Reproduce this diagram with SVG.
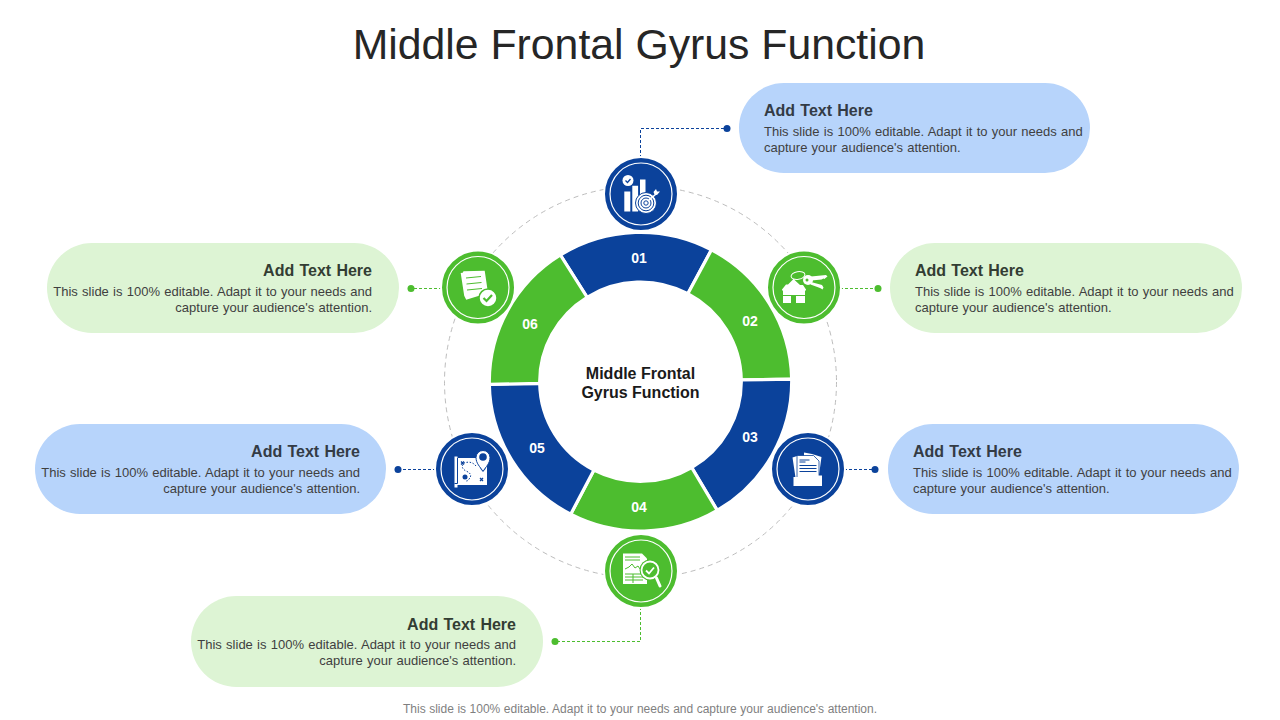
<svg xmlns="http://www.w3.org/2000/svg" width="1280" height="720" viewBox="0 0 1280 720">
<style>
text{font-family:"Liberation Sans",Arial,sans-serif}
.title{font-size:42.75px;fill:#262626;text-anchor:middle}
.foot{font-size:12px;fill:#7f7f7f;text-anchor:middle;word-spacing:.2px}
.h{font-size:16px;font-weight:bold;fill:#333b45;word-spacing:.8px}
.hg{fill:#333d33}
.b{font-size:13px;fill:#3f3f3f;word-spacing:.65px}
.e{text-anchor:end}
.num{font-size:14px;font-weight:bold;fill:#fff;text-anchor:middle}
.ctr{font-size:16px;font-weight:bold;fill:#1a1a1a;text-anchor:middle}
.pb{fill:#b7d4fb}.pg{fill:#ddf4d4}
.fb{fill:#0b429b}.fg{fill:#4dbd2f}
.disc{stroke:#fff;stroke-width:2}
.ring{fill:none;stroke:#fff;stroke-width:1.2}
.w{fill:#fff}
.lb{stroke:#0b429b}.lg{stroke:#4dbd2f}
.ib{fill:none;stroke:#0b429b;stroke-width:1}
.ig{fill:none;stroke:#4dbd2f;stroke-width:1}
.iw{fill:none;stroke:#fff;stroke-width:1}
.con{fill:none;stroke-width:1;stroke-dasharray:3 2}
.seg{stroke:#fff;stroke-width:3.2}
</style>
<text class="title" x="639" y="59">Middle Frontal Gyrus Function</text>
<circle cx="640.5" cy="382" r="196" fill="none" stroke="#bdbdbd" stroke-width="1" stroke-dasharray="5 4"/>
<g id="connectors">
<g class="lb"><path class="con" d="M640.5,158V128.500H727"/><circle cx="727" cy="128.500" r="3.500" class="fb" stroke="none"/></g>
<g class="lg"><path class="con" d="M840,288.500H878"/><circle cx="878" cy="288.500" r="3.500" class="fg" stroke="none"/></g>
<g class="lb"><path class="con" d="M844,469.500H875"/><circle cx="875" cy="469.500" r="3.500" class="fb" stroke="none"/></g>
<g class="lg"><path class="con" d="M640.500,607V641.500H555"/><circle cx="555" cy="641.500" r="3.500" class="fg" stroke="none"/></g>
<g class="lb"><path class="con" d="M436,469.500H398"/><circle cx="398" cy="469.500" r="3.500" class="fb" stroke="none"/></g>
<g class="lg"><path class="con" d="M442,288.500H411"/><circle cx="411" cy="288.500" r="3.500" class="fg" stroke="none"/></g>
</g>
<g id="ring" transform="translate(640.5,381.7) scale(1.006,.994)">
<path class="fb seg" d="M-79.65,-127.46A150.3,150.3 0 0 1 70.56,-132.71L47.04,-88.47A100.2,100.2 0 0 0 -53.1,-84.97Z"/>
<path class="fg seg" d="M70.56,-132.71A150.3,150.3 0 0 1 150.28,-2.62L100.18,-1.75A100.2,100.2 0 0 0 47.04,-88.47Z"/>
<path class="fb seg" d="M150.28,-2.62A150.3,150.3 0 0 1 76.28,129.5L50.85,86.33A100.2,100.2 0 0 0 100.18,-1.75Z"/>
<path class="fg seg" d="M76.28,129.5A150.3,150.3 0 0 1 -69.4,133.32L-46.26,88.88A100.2,100.2 0 0 0 50.85,86.33Z"/>
<path class="fb seg" d="M-69.4,133.32A150.3,150.3 0 0 1 -150.28,2.62L-100.18,1.75A100.2,100.2 0 0 0 -46.26,88.88Z"/>
<path class="fg seg" d="M-150.28,2.62A150.3,150.3 0 0 1 -79.65,-127.46L-53.1,-84.97A100.2,100.2 0 0 0 -100.18,1.75Z"/>
</g>
<text class="num" x="639" y="263">01</text>
<text class="num" x="750" y="326">02</text>
<text class="num" x="750" y="442">03</text>
<text class="num" x="639" y="512">04</text>
<text class="num" x="537" y="453">05</text>
<text class="num" x="530" y="329">06</text>
<text class="ctr" x="640.5" y="379">Middle Frontal</text>
<text class="ctr" x="640.5" y="398">Gyrus Function</text>

<g id="node-1">
<rect class="pb" x="739" y="83" width="351" height="90" rx="45"/>
<text class="h" x="764" y="116">Add Text Here</text>
<text class="b" x="764" y="136">This slide is 100% editable. Adapt it to your needs and</text>
<text class="b" x="764" y="152">capture your audience's attention.</text>
<circle class="fb disc" cx="641" cy="194" r="37"/><circle class="ring" cx="641" cy="194" r="31"/>
<path class="w" d="M624.3,191.500h6v20h-6zM632.300,185.700h5.800v25.800h-5.800zM640,179.500h5.500v19h-5.500z"/>
<circle class="w" cx="628" cy="180.500" r="5.500"/><path class="ib" style="stroke-width:1.300" d="M625.500,180.500l2,2 3,-3.500"/>
<circle class="w" stroke="#0b429b" stroke-width="1" cx="646" cy="203" r="10.500"/><circle class="ib" cx="646" cy="203" r="7.800"/><circle class="ib" cx="646" cy="203" r="5"/><circle class="ib" cx="646" cy="203" r="2.200"/>
<path class="iw" style="stroke-width:1.500" d="M648,201L656,194"/><path class="w" d="M653.500,192l2.500,-3 1,2.500 3,0 -3,3.500 -2.500,-.5z"/>
</g>

<g id="node-2">
<rect class="pg" x="890" y="243" width="352" height="90" rx="45"/>
<text class="h hg" x="915" y="276">Add Text Here</text>
<text class="b" x="915" y="296">This slide is 100% editable. Adapt it to your needs and</text>
<text class="b" x="915" y="312">capture your audience's attention.</text>
<circle class="fg disc" cx="804" cy="287.500" r="37"/><circle class="ring" cx="804" cy="287.500" r="31"/>
<path class="w" d="M793.500,279l6.500,6 3,0 3,4.500v1h-1v12.500h-9v-7h-5v7h-8v-12.500h-1v-1l4,-5h2z"/>
<path class="ig" d="M783,295.500h22M794,295.500v8"/>
<ellipse class="iw" cx="798" cy="275.500" rx="7" ry="3.800" transform="rotate(-10 798 275.500)"/><path class="iw" d="M794,279l-.5,2"/>
<circle class="w" cx="808" cy="280" r="5"/><circle class="fg" cx="807" cy="280" r="1.500"/>
<path class="w" d="M811,276.500l15,-1.500 1.500,1.500 -2,1.500 -1,1 -1,-.5 -2,1 -10,1z"/>
<path class="w" d="M811,282l11,3 1.500,2.500 -1,2 -1.500,-1 -1,-.5 -9.500,-3.500z"/>
</g>

<g id="node-3">
<rect class="pb" x="888" y="424" width="351" height="90" rx="45"/>
<text class="h" x="913" y="457">Add Text Here</text>
<text class="b" x="913" y="477">This slide is 100% editable. Adapt it to your needs and</text>
<text class="b" x="913" y="493">capture your audience's attention.</text>
<circle class="fb disc" cx="808" cy="469" r="37"/><circle class="ring" cx="808" cy="469" r="31"/>
<path class="w" d="M792.500,457.500l6,-2v22h-3zM804,452.500l8,1.500 9.500,3 -2.500,18h-15z"/>
<path class="w" stroke="#0b429b" stroke-width=".8" d="M797,455.500h16.500l5.500,5.500v17h-22z"/>
<path class="ib" d="M799.500,460h10M799.500,462h6M799.500,465.500h17M799.500,468.500h17M799.500,471.500h17"/>
<path class="w" d="M793.500,477h6l1.500,-1.500h21v10.500h-28.500z"/>
</g>

<g id="node-4">
<rect class="pg" x="191" y="596" width="352" height="91" rx="45.500"/>
<text class="h hg e" x="516" y="630">Add Text Here</text>
<text class="b e" x="516" y="649">This slide is 100% editable. Adapt it to your needs and</text>
<text class="b e" x="516" y="665">capture your audience's attention.</text>
<circle class="fg disc" cx="641" cy="571" r="37"/><circle class="ring" cx="641" cy="571" r="31"/>
<path class="w" d="M623,553.500h19l5,5v25.500h-24z"/>
<path class="ig" d="M625,557h15M625,560h15M625,569l4,-2 3,-3 3,4 3,-2 2,3M625,574h18M625,577h18M625,580h18M633,574v9"/>
<circle class="fg" cx="650" cy="570" r="10.500"/>
<circle class="iw" style="stroke-width:1.800" cx="650" cy="570" r="8.500"/>
<path class="iw" style="stroke-width:1.800" d="M646,570.500l3,3 5,-6"/>
<path class="iw" style="stroke-width:3;stroke-linecap:round" d="M656.500,578L660,586"/>
</g>

<g id="node-5">
<rect class="pb" x="35" y="424" width="351" height="90" rx="45"/>
<text class="h e" x="360" y="457">Add Text Here</text>
<text class="b e" x="360" y="477">This slide is 100% editable. Adapt it to your needs and</text>
<text class="b e" x="360" y="493">capture your audience's attention.</text>
<circle class="fb disc" cx="472" cy="469" r="37"/><circle class="ring" cx="472" cy="469" r="31"/>
<path class="w" d="M454.500,456.500h3v1.500h29.500v27h-29.500v2.500h-3z"/>
<path class="ib" d="M457.500,458v25.500h-3"/>
<path class="ib" style="stroke-dasharray:1.500 1.500" d="M476,466c-4,-5 -9,-4 -12,-3 -3,3 -2,6 2,8 5,2 6,5 3,8 -1,2 -2,2 -3,2"/>
<path class="ib" style="stroke-width:1.300" d="M461,461.500l3,3m0,-3l-3,3M480,478l3,3m0,-3l-3,3"/>
<circle cx="465" cy="477" r="2.500" class="fb"/><circle cx="483" cy="468" r="2.500" class="fb"/>
<path class="w" stroke="#0b429b" stroke-width="1" d="M483,471.500c-3,-5 -7,-8 -7,-14a7,7 0 0 1 14,0c0,6 -4,9 -7,14z"/>
<circle cx="483" cy="457" r="3.800" class="fb"/>
</g>

<g id="node-6">
<rect class="pg" x="47" y="243" width="352" height="90" rx="45"/>
<text class="h hg e" x="372" y="276">Add Text Here</text>
<text class="b e" x="372" y="296">This slide is 100% editable. Adapt it to your needs and</text>
<text class="b e" x="372" y="312">capture your audience's attention.</text>
<circle class="fg disc" cx="478" cy="287.500" r="37"/><circle class="ring" cx="478" cy="287.500" r="31"/>
<path class="w" d="M460.700,273l2,-.3 .8,-1.500 21.200,-.5 3.300,22.300 -21.800,6.700 -2,-4z"/>
<path class="ig" d="M466,278l15,-1.500M466.500,284l15,-1.500M467,290l15,-1.500"/>
<circle class="w" stroke="#4dbd2f" stroke-width="1.500" cx="488" cy="298" r="9"/>
<path style="fill:none;stroke:#4dbd2f;stroke-width:2.200" d="M483.500,298l3,3 5.500,-6"/>
</g>
<text class="foot" x="640" y="713">This slide is 100% editable. Adapt it to your needs and capture your audience's attention.</text>
</svg>
